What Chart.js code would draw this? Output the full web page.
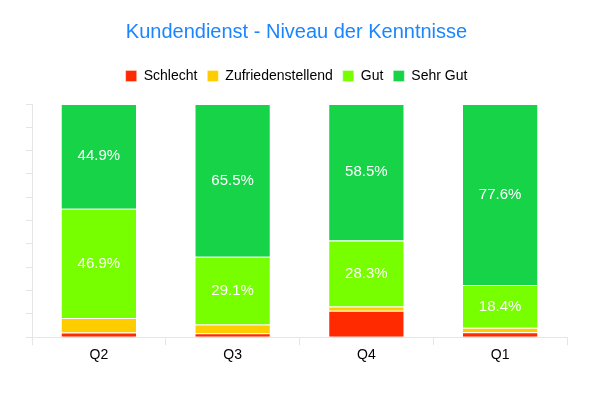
<!DOCTYPE html>
<html>
<head>
<meta charset="utf-8">
<script src="https://cdn.jsdelivr.net/npm/chart.js@4/dist/chart.umd.min.js"></script>
<style>
  html, body { margin: 0; padding: 0; background: #fff; }
  #wrap { width: 591px; height: 393px; }
</style>
</head>
<body>
<div id="wrap"><canvas id="chart"></canvas></div>
<script>
const quarters = ['Q2', 'Q3', 'Q4', 'Q1'];
const schlecht = [2.0, 1.7, 11.3, 2.1];
const zufrieden = [6.2, 3.7, 1.9, 1.9];
const gut = [46.9, 29.1, 28.3, 18.4];
const sehrGut = [44.9, 65.5, 58.5, 77.6];

const FONT = "'Liberation Sans', Arial, sans-serif";

// white value labels in the middle of the two big segments
const segmentLabels = {
    id: 'segmentLabels',
    afterDatasetsDraw(chart) {
        const ctx = chart.ctx;
        ctx.save();
        ctx.fillStyle = '#ffffff';
        ctx.font = '15px ' + FONT;
        ctx.textAlign = 'center';
        ctx.textBaseline = 'middle';
        [2, 3].forEach(i => {
            const meta = chart.getDatasetMeta(i);
            meta.data.forEach((bar, j) => {
                const v = chart.data.datasets[i].data[j];
                const mid = (bar.y + bar.base) / 2;
                ctx.fillText(v.toFixed(1) + '%', bar.x, mid);
            });
        });
        ctx.restore();
    }
};

// extra room between legend and plot
const legendGap = {
    id: 'legendGap',
    beforeInit(chart) {
        const fit = chart.legend.fit;
        chart.legend.fit = function () {
            fit.bind(chart.legend)();
            this.height += 11;
        };
    }
};

new Chart(document.getElementById('chart'), {
    type: 'bar',
    data: {
        labels: quarters,
        datasets: [
            { label: 'Schlecht', data: schlecht, backgroundColor: '#ff2a00' },
            { label: 'Zufriedenstellend', data: zufrieden, backgroundColor: '#ffcc00' },
            { label: 'Gut', data: gut, backgroundColor: '#77ff00' },
            { label: 'Sehr Gut', data: sehrGut, backgroundColor: '#17d347' }
        ].map(d => Object.assign(d, {
            borderColor: 'rgba(255,255,255,0.35)',
            borderWidth: 1,
            categoryPercentage: 1,
            barPercentage: 0.57
        }))
    },
    options: {
        responsive: true,
        maintainAspectRatio: false,
        animation: false,
        layout: { padding: { left: 26, right: 24, top: 10, bottom: 27 } },
        plugins: {
            title: {
                display: true,
                text: 'Kundendienst - Niveau der Kenntnisse',
                color: '#1a85ff',
                font: { size: 20, family: FONT, weight: 'normal' },
                padding: { top: 10, bottom: 15 }
            },
            legend: {
                position: 'top',
                labels: {
                    color: '#000',
                    boxWidth: 11,
                    boxHeight: 11,
                    padding: 10,
                    font: { size: 14, family: FONT }
                }
            },
            tooltip: { enabled: false }
        },
        scales: {
            x: {
                stacked: true,
                grid: { offset: true, drawOnChartArea: false, color: '#e6e6e6', tickLength: 8 },
                border: { color: '#e6e6e6' },
                ticks: { color: '#000', font: { size: 14, family: FONT }, padding: 2 }
            },
            y: {
                stacked: true,
                min: 0,
                max: 100,
                grid: { drawOnChartArea: false, color: '#e6e6e6', tickLength: 6 },
                border: { color: '#e6e6e6' },
                ticks: { display: false, stepSize: 10 }
            }
        }
    },
    plugins: [segmentLabels, legendGap]
});
</script>
</body>
</html>
